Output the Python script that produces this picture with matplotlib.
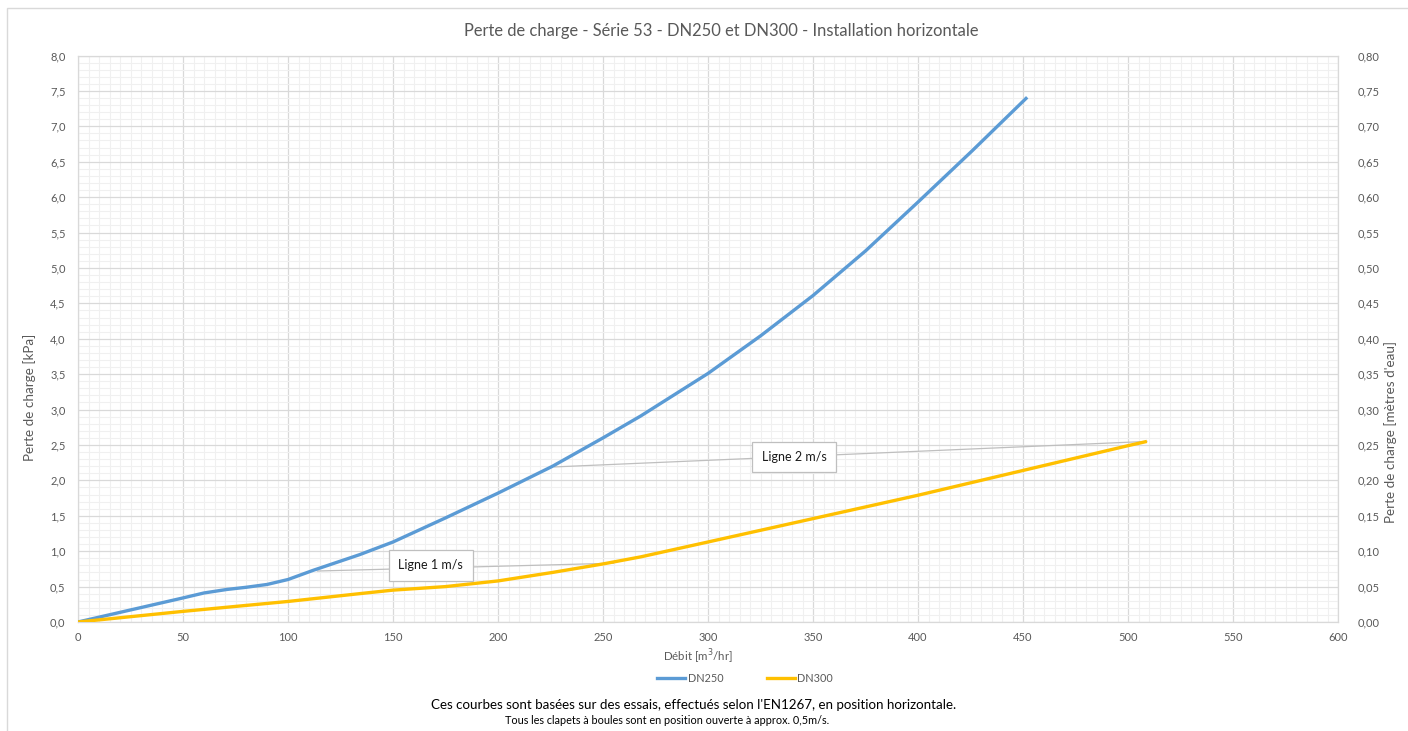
import matplotlib
matplotlib.use("Agg")
import matplotlib.pyplot as plt
from matplotlib.ticker import MultipleLocator, FuncFormatter
from matplotlib.lines import Line2D
from matplotlib.patches import Rectangle

plt.rcParams["font.family"] = ["Lato", "DejaVu Sans"]

# debit [m3/hr] vs perte de charge [kPa]
dn250_q = [0, 25, 50, 60, 71, 80, 90, 100, 112, 134, 150, 175, 200, 226, 250, 268, 300, 325, 350, 375, 400, 426, 452]
dn250_dp = [0, 0.17, 0.34, 0.41, 0.46, 0.49, 0.53, 0.60, 0.73, 0.95, 1.13, 1.47, 1.82, 2.20, 2.60, 2.91, 3.51, 4.04, 4.61, 5.24, 5.93, 6.66, 7.41]

dn300_q = [0, 50, 100, 134, 150, 175, 200, 226, 250, 268, 300, 350, 400, 450, 500, 509]
dn300_dp = [0, 0.15, 0.29, 0.40, 0.45, 0.50, 0.58, 0.70, 0.82, 0.92, 1.13, 1.46, 1.79, 2.14, 2.49, 2.55]

# velocity lines join the two curves
ligne1_q = [114, 255]
ligne1_dp = [0.72, 0.83]
ligne2_q = [227, 509]
ligne2_dp = [2.19, 2.55]
labels = ["Ligne 1 m/s", "Ligne 2 m/s"]
label_pos = [(168, 0.80), (341, 2.33)]

BLUE = "#5b9bd5"
GOLD = "#ffc000"
GRID = "#d9d9d9"
MINOR = "#f0f0f0"
TXT = "#595959"

W, H = 1408, 731
fig = plt.figure(figsize=(W / 100, H / 100), dpi=100)
ax = fig.add_axes([78 / W, 1 - 622 / H, (1338 - 78) / W, (622 - 55.5) / H])

# chart area border
fig.add_artist(Rectangle((7 / W, -0.01), 1.02 - 7 / W, 1 - 8 / H + 0.01, transform=fig.transFigure,
                         fill=False, edgecolor="#d9d9d9", lw=1))

ax.plot(ligne1_q, ligne1_dp, color="#bfbfbf", lw=0.9, zorder=2)
ax.plot(ligne2_q, ligne2_dp, color="#bfbfbf", lw=0.9, zorder=2)
ax.plot(dn250_q, dn250_dp, color=BLUE, lw=2.4, solid_capstyle="butt", solid_joinstyle="round", zorder=3)
ax.plot(dn300_q, dn300_dp, color=GOLD, lw=2.4, solid_capstyle="butt", solid_joinstyle="round", zorder=3)

for lab, (x, y) in zip(labels, label_pos):
    ax.text(x, y, lab, ha="center", va="center", fontsize=9, color="#1a1a1a", zorder=4,
            bbox=dict(boxstyle="square,pad=0.75", fc="white", ec="#bfbfbf", lw=0.9))

ax.set_xlim(0, 600)
ax.set_ylim(0, 8)
ax.xaxis.set_major_locator(MultipleLocator(50))
ax.xaxis.set_minor_locator(MultipleLocator(5))
ax.yaxis.set_major_locator(MultipleLocator(0.5))
ax.yaxis.set_minor_locator(MultipleLocator(0.1))
ax.grid(which="major", color=GRID, lw=0.9, zorder=0)
ax.grid(which="minor", color=MINOR, lw=0.8, zorder=0)
ax.set_axisbelow(True)
for s in ax.spines.values():
    s.set_color(GRID)
    s.set_linewidth(0.9)

comma1 = FuncFormatter(lambda v, p: f"{v:.1f}".replace(".", ","))
comma2 = FuncFormatter(lambda v, p: f"{v:.2f}".replace(".", ","))
ax.xaxis.set_major_formatter(FuncFormatter(lambda v, p: f"{v:.0f}"))
ax.yaxis.set_major_formatter(comma1)
ax.tick_params(which="both", length=0, labelsize=8, labelcolor=TXT)
ax.tick_params(axis="x", pad=7)
ax.tick_params(axis="y", pad=9)

sec = ax.secondary_yaxis("right", functions=(lambda y: y / 10, lambda y: y * 10))
sec.yaxis.set_major_locator(MultipleLocator(0.05))
sec.yaxis.set_major_formatter(comma2)
sec.tick_params(length=0, labelsize=8, labelcolor=TXT, pad=14)
sec.spines["right"].set_visible(False)

fig.text(721 / W, 1 - 31 / H, "Perte de charge - Série 53 - DN250 et DN300 - Installation horizontale",
         ha="center", va="center", fontsize=11.9, color=TXT)
fig.text(30 / W, 1 - 397 / H, "Perte de charge [kPa]", rotation=90, ha="center", va="center",
         fontsize=9.7, color=TXT)
fig.text(1391 / W, 1 - 432 / H, "Perte de charge [mètres d'eau]", rotation=90, ha="center", va="center",
         fontsize=9.7, color=TXT)
fig.text(698 / W, 1 - 657 / H, "Débit [m$^3$/hr]", ha="center", va="center", fontsize=8.3, color=TXT)

handles = [Line2D([], [], color=BLUE, lw=2.4), Line2D([], [], color=GOLD, lw=2.4)]
leg = fig.legend(handles, ["DN250", "DN300"], loc="center", bbox_to_anchor=(745 / W, 1 - 678 / H),
                 ncol=2, frameon=False, fontsize=7.8, handlelength=2.6, handletextpad=0.2,
                 columnspacing=4.0)
for t in leg.get_texts():
    t.set_color(TXT)

fig.text(694 / W, 1 - 705 / H,
         "Ces courbes sont basées sur des essais, effectués selon l'EN1267, en position horizontale.",
         ha="center", va="center", fontsize=9.6, color="black")
fig.text(667 / W, 1 - 720 / H, "Tous les clapets à boules sont en position ouverte à approx. 0,5m/s.",
         ha="center", va="center", fontsize=7.8, color="black")

fig.savefig("out.png", dpi=100)
